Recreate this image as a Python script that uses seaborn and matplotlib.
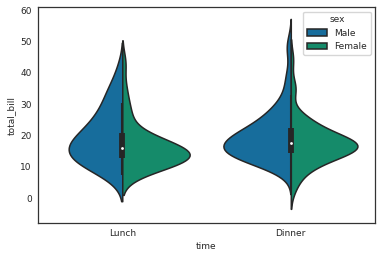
import numpy as np
import pandas as pd
import matplotlib
matplotlib.use("Agg")
import matplotlib.pyplot as plt
import seaborn as sns

times = ["Lunch", "Dinner"]
sexes = ["Male", "Female"]
colors = ["#0173B2", "#029E73"]

lunch_male = [7.51, 8.58, 9.78, 10.34, 11.38, 12.16, 12.48, 13.0, 13.03, 13.42, 14.26,
              15.48, 15.98, 16.4, 16.66, 17.29, 18.28, 18.71, 19.44, 19.81, 20.27, 21.16,
              22.76, 24.08, 24.71, 25.71, 27.2, 28.44, 30.46, 32.68, 34.3, 36.0, 41.19]
lunch_female = [8.35, 8.51, 10.07, 10.65, 10.09, 11.59, 11.87, 12.26, 12.43, 12.74,
                12.9, 13.0, 13.13, 13.16, 13.27, 13.42, 14.07, 14.52, 14.73, 15.38,
                15.98, 16.27, 16.43, 16.47, 17.78, 18.26, 18.64, 19.08, 19.59, 20.53,
                24.52, 27.05, 29.8, 34.83, 43.11]
dinner_male = [7.74, 8.77, 9.55, 9.94,
               10.27, 10.34, 10.51, 11.02, 11.24, 11.69, 11.87, 11.5, 11.8,
               12.02, 12.46, 12.54, 12.69, 12.90, 13.03, 13.28, 13.37, 13.42, 13.51, 13.81, 13.94, 13.58, 12.2,
               14.00, 14.29, 14.48, 14.52, 14.83, 15.01, 15.04, 15.36, 15.42, 15.48, 15.53, 15.69,
               15.81, 15.98, 14.78, 15.14, 15.77,
               16.04, 16.29, 16.31, 16.49, 16.66, 16.82, 16.93, 17.07, 17.29, 17.46,
               16.21, 16.58, 17.26,
               18.04, 18.24, 18.28, 18.29, 18.29, 18.35, 18.69, 18.71, 19.08, 19.44, 19.49, 19.65,
               19.77, 19.81, 18.15, 19.22,
               20.08, 20.23, 20.29, 20.45, 20.49, 20.65, 20.69, 21.01, 21.01, 21.16, 21.58, 21.70, 20.90,
               22.12, 22.23, 22.49, 22.67, 23.10, 23.33, 23.68, 23.95, 24.06, 24.27, 24.71, 23.8,
               25.21, 25.29, 25.56, 26.59, 26.88, 27.18, 27.28, 26.0, 27.9,
               28.15, 28.55, 28.97, 29.93, 30.40, 31.27,
               32.40, 32.83, 34.63, 35.83, 38.07, 39.42,
               40.17, 45.35, 48.17, 48.27, 50.81]
dinner_female = [3.07, 5.75, 7.25, 9.60, 10.29, 10.33, 10.59, 11.35, 12.76, 13.39,
                 14.31, 14.73, 14.83, 15.06, 15.77, 16.32, 16.45, 16.97, 16.99, 17.07,
                 17.31, 17.51, 18.15, 18.78, 19.65, 20.29, 20.69, 20.92, 22.42, 22.75,
                 13.94, 14.52, 15.25, 15.69, 16.40, 17.89, 18.71, 19.08,
                 23.17, 24.59, 25.28, 25.71, 26.41, 15.5, 18.4, 16.8, 17.6, 34.81,
                 35.26, 44.30, 12.90, 21.50]

groups = {("Lunch", "Male"): lunch_male, ("Lunch", "Female"): lunch_female,
          ("Dinner", "Male"): dinner_male, ("Dinner", "Female"): dinner_female}
rows = []
for (t, s), vals in groups.items():
    for v in vals:
        rows.append({"time": t, "sex": s, "total_bill": v})
df = pd.DataFrame(rows)

sns.set_theme(style="white")
plt.rcParams.update({"font.size": 6.5, "axes.labelsize": 6.5, "xtick.labelsize": 6.5,
                     "ytick.labelsize": 6.5, "legend.fontsize": 6.5,
                     "legend.title_fontsize": 6.5, "axes.labelpad": 3})

fig = plt.figure(figsize=(3.8, 2.6), dpi=100)
ax = fig.add_axes([0.10, 0.142, 0.887, 0.831])
sns.violinplot(data=df, x="time", y="total_bill", hue="sex", order=times,
               hue_order=sexes, palette=colors, split=True, inner=None,
               linewidth=1.1, linecolor="#262626", ax=ax)

# combined inner box per category
for i, t in enumerate(times):
    vals = np.asarray(df.loc[df["time"] == t, "total_bill"])
    q1, med, q3 = np.percentile(vals, [25, 50, 75])
    iqr = q3 - q1
    lo = vals[vals >= q1 - 1.5 * iqr].min()
    hi = vals[vals <= q3 + 1.5 * iqr].max()
    ax.plot([i, i], [lo, hi], color="#262626", lw=1.5, solid_capstyle="butt", zorder=3)
    ax.plot([i, i], [q1, q3], color="#262626", lw=4.2, solid_capstyle="butt", zorder=3)
    ax.scatter([i], [med], s=4, color="white", zorder=4, linewidth=0)

ax.set_xlim(-0.5, 1.5)
ax.set_ylim(-7.9, 61)
ax.set_yticks(range(0, 61, 10))
ax.tick_params(axis="both", length=0, pad=4.5)
ax.set_xlabel("time")
ax.set_ylabel("total_bill")
for sp in ax.spines.values():
    sp.set_color("#333333")
    sp.set_linewidth(0.9)
ax.legend(title="sex", loc="upper right", handlelength=2.2)
fig.savefig("out.png", dpi=100)
